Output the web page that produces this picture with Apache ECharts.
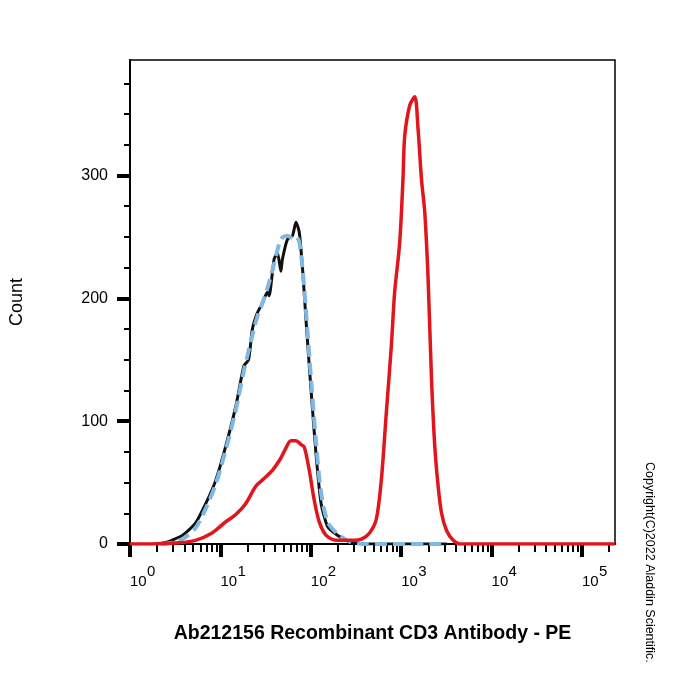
<!DOCTYPE html>
<html>
<head>
<meta charset="utf-8">
<script src="https://cdn.jsdelivr.net/npm/echarts@6/dist/echarts.min.js"></script>
<style>
  html, body { margin: 0; padding: 0; background: #fff; }
  #chart { width: 700px; height: 700px; }
</style>
</head>
<body>
<div id="chart"></div>
<script>
// fluorescence intensity (x) and event count (y)
const blackX = [1.9, 2.4, 2.9, 3.8, 5.3, 6.9, 8.9, 11.4, 14.8, 18.2, 20.5, 22.6, 25.6, 29.1, 33.1, 34.6, 39.3, 42.8, 46.7, 48.6, 55.2, 62.8, 68.5, 74.5, 81.1, 88.4, 100, 114, 130, 154, 199, 268, 393, 3200];
const blackY = [0, 1, 3, 7, 17, 33, 52, 79, 112, 145, 150, 175, 188, 196, 205, 202, 232, 237, 222, 232, 248, 251, 262, 254, 224, 183, 128, 74, 33, 14, 7, 2, 0, 0];

const blueX = [2.2, 2.9, 3.8, 5.3, 6.9, 8.9, 11.4, 14.8, 18.2, 22.6, 25.6, 29.1, 33.1, 39.3, 46.7, 55.2, 62.8, 68.5, 74.5, 81.1, 88.4, 100, 114, 130, 154, 199, 268, 393, 3200];
const blueY = [0, 1, 4, 13, 29, 49, 76, 109, 141, 170, 185, 196, 208, 228, 248, 251, 249, 250, 246, 224, 190, 137, 84, 42, 18, 8, 2, 0, 0];

const redX = [1, 1.6, 3.5, 5.3, 8.1, 11.4, 14.8, 19.1, 24.6, 29.1, 37.6, 46.7, 53, 60.3, 68.5, 77.8, 84.7, 96.2, 109, 124, 148, 191, 236, 304, 364, 447, 530, 603, 685, 778, 847, 962, 1047, 1094, 1243, 1413, 1537, 1677, 1824, 1985, 2166, 2356, 2565, 2797, 3178, 3763, 4467, 232000];
const redY = [0, 0, 1, 3, 9, 18, 24, 33, 47, 52, 60, 70, 78, 84, 84, 81, 79, 60, 36, 18, 7, 3, 3, 3, 4, 9, 20, 52, 107, 161, 205, 245, 297, 332, 357, 364, 338, 297, 270, 216, 134, 79, 47, 25, 11, 3, 0, 0];

const xMin = 1;
const xMax = 232000;
const xMajorTicks = [1, 10, 100, 1000, 10000, 100000];
const xTickExponents = ['0', '1', '2', '3', '4', '5'];
const xMinorTicks = [2, 3, 4, 5, 6, 7, 8, 9,
  20, 30, 40, 50, 60, 70, 80, 90,
  200, 300, 400, 500, 600, 700, 800, 900,
  2000, 3000, 4000, 5000, 6000, 7000, 8000, 9000,
  20000, 30000, 40000, 50000, 60000, 70000, 80000, 90000,
  200000];

const yMax = 394;
const yMajorTicks = [0, 100, 200, 300];
const yMinorTicks = [25, 50, 75, 125, 150, 175, 225, 250, 275, 325, 350, 375];

const FONT = 'Liberation Sans, Arial, sans-serif';

const pairs = (xs, ys) => xs.map((x, i) => [x, ys[i]]);

const chart = echarts.init(document.getElementById('chart'), null, { renderer: 'canvas' });

// bare log axis sharing the plot, used for minor ticks and the exponents
const overlayX = (extra) => Object.assign({
  type: 'log', logBase: 10, min: xMin, max: xMax,
  position: 'bottom',
  axisLine: { show: false },
  axisTick: { show: false },
  axisLabel: { show: false },
  splitLine: { show: false }
}, extra);

const option = {
  animation: false,
  backgroundColor: '#fff',
  grid: {
    left: 130, right: 85, top: 60, bottom: 156,
    show: true, borderColor: '#000', borderWidth: 1.5
  },
  xAxis: [
    {
      type: 'log', logBase: 10, min: xMin, max: xMax,
      position: 'bottom',
      name: 'Ab212156 Recombinant CD3 Antibody - PE',
      nameLocation: 'middle', nameGap: 80,
      nameTextStyle: { fontFamily: FONT, fontSize: 19.5, fontWeight: 'bold', color: '#000' },
      axisLine: { show: true, onZero: false, lineStyle: { color: '#000', width: 2 } },
      axisTick: { show: true, customValues: xMajorTicks, length: 13, lineStyle: { color: '#000', width: 4 } },
      axisLabel: {
        customValues: xMajorTicks, formatter: '10',
        align: 'left', margin: 30, color: '#000', fontFamily: FONT, fontSize: 15
      },
      splitLine: { show: false }
    },
    overlayX({
      axisTick: { show: true, customValues: xMinorTicks, length: 8, lineStyle: { color: '#000', width: 2 } }
    }),
    overlayX({
      axisLabel: {
        show: true, customValues: xMajorTicks,
        formatter: function (v) { return xTickExponents[xMajorTicks.indexOf(v)]; },
        align: 'left', margin: 20, padding: [0, 0, 0, 17],
        color: '#000', fontFamily: FONT, fontSize: 15
      }
    })
  ],
  yAxis: [
    {
      type: 'value', min: 0, max: yMax,
      position: 'left',
      name: 'Count', nameLocation: 'middle', nameGap: 104,
      nameTextStyle: { fontFamily: FONT, fontSize: 18, color: '#000' },
      axisLine: { show: true, onZero: false, lineStyle: { color: '#000', width: 2 } },
      axisTick: { show: true, customValues: yMajorTicks, length: 13, lineStyle: { color: '#000', width: 4 } },
      axisLabel: { customValues: yMajorTicks, margin: 22, fontFamily: FONT, fontSize: 16, color: '#000' },
      splitLine: { show: false }
    },
    {
      type: 'value', min: 0, max: yMax,
      position: 'left',
      axisLine: { show: false },
      axisTick: { show: true, customValues: yMinorTicks, length: 6, lineStyle: { color: '#000', width: 2 } },
      axisLabel: { show: false },
      splitLine: { show: false }
    }
  ],
  series: [
    {
      type: 'line', name: 'black', data: pairs(blackX, blackY),
      symbol: 'none', smooth: 0.2, z: 2,
      lineStyle: { color: '#111', width: 3, join: 'round' }
    },
    {
      type: 'line', name: 'blue', data: pairs(blueX, blueY),
      symbol: 'none', smooth: 0.3, z: 3,
      lineStyle: { color: '#80b8e4', width: 4, type: [12, 6] }
    },
    {
      type: 'line', name: 'red', data: pairs(redX, redY),
      symbol: 'none', smooth: 0.3, z: 4,
      lineStyle: { color: '#e0161c', width: 3.5, join: 'round' }
    }
  ],
  graphic: [
    {
      type: 'text', x: 649, y: 462, rotation: -Math.PI / 2,
      style: {
        text: 'Copyright(C)2022 Aladdin Scientific.',
        fontFamily: FONT, fontSize: 12.5, fill: '#000',
        align: 'left', verticalAlign: 'middle'
      }
    }
  ]
};

chart.setOption(option);
</script>
</body>
</html>
